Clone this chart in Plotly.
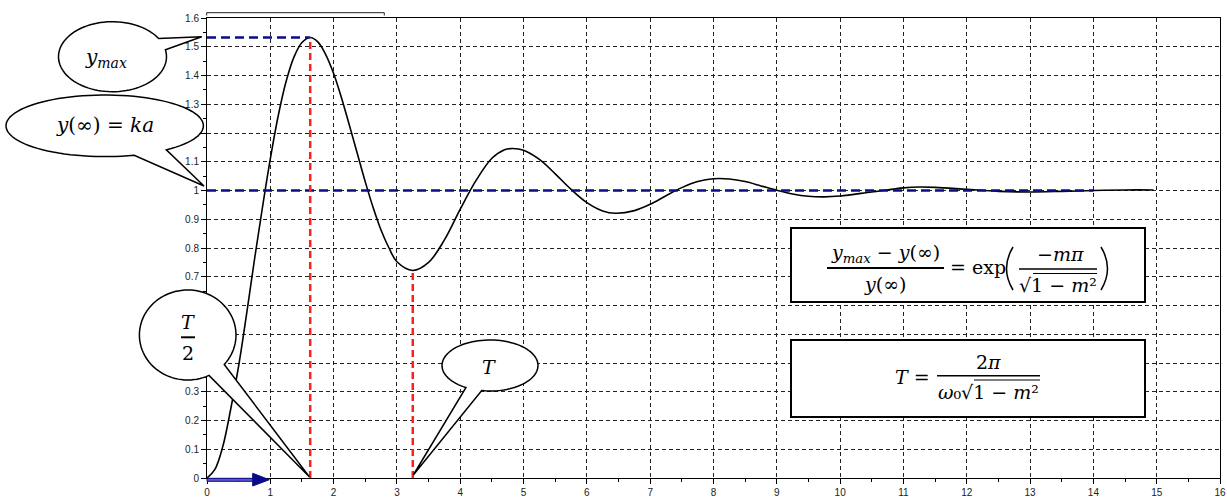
import math
import plotly.graph_objects as go

# Step response of a second-order system (time in s, output y)
t_values = [0, 0.125, 0.25, 0.375, 0.5, 0.625, 0.75, 0.875, 1.0, 1.125, 1.25, 1.375,
            1.5, 1.63, 1.75, 1.875, 2.0, 2.125, 2.25, 2.375, 2.5, 2.625, 2.75, 2.875,
            3.0, 3.25, 3.5, 3.75, 4.0, 4.25, 4.5, 4.7, 4.83, 5.0, 5.25, 5.5, 5.75,
            6.0, 6.25, 6.45, 6.75, 7.0, 7.25, 7.5, 7.75, 8.0, 8.25, 8.5, 8.75, 9.0,
            9.25, 9.5, 9.75, 10.0, 10.5, 11.0, 11.25, 11.5, 12.0, 12.5, 13.0, 13.5,
            14.0, 14.5, 14.95]
y_values = [0, 0.03, 0.11, 0.24, 0.39, 0.57, 0.76, 0.94, 1.11, 1.26, 1.38, 1.465,
            1.515, 1.532, 1.517, 1.473, 1.407, 1.322, 1.226, 1.128, 1.03, 0.94, 0.862, 0.8,
            0.752, 0.722, 0.75, 0.828, 0.935, 1.035, 1.112, 1.142, 1.146, 1.14, 1.108, 1.058, 1.004,
            0.958, 0.929, 0.921, 0.93, 0.952, 0.982, 1.01, 1.031, 1.041, 1.04, 1.031, 1.016, 1.001,
            0.988, 0.98, 0.978, 0.981, 0.995, 1.009, 1.012, 1.011, 1.004, 0.997, 0.995, 0.997,
            1.0, 1.002, 1.002]

# Characteristic points
y_final = 1.0
y_final_end = 14.0
t_peak = 1.63
y_peak = 1.532
t_period = 3.25
y_trough = 0.722

x_ticks = list(range(0, 17))
y_ticks = [round(0.1 * i, 1) for i in range(0, 17)]
y_tick_text = ["0", "0.1", "0.2", "0.3", "0.4", "0.5", "0.6", "0.7", "0.8", "0.9",
               "1", "1.1", "1.2", "1.3", "1.4", "1.5", "1.6"]

W, H = 1227, 500
ML, MR, MT, MB = 207, 7, 18, 22
PW, PH = W - ML - MR, H - MT - MB


def fx(px):
    return (px - ML) / PW


def fy(py):
    return (H - MB - py) / PH


def pt(px, py):
    return f"{fx(px):.5f},{fy(py):.5f}"


NAVY = "#0b0b8a"
RED = "#ff1f1f"
MATH = "DejaVu Serif, Liberation Serif, serif"

fig = go.Figure()

fig.add_trace(go.Scatter(x=t_values, y=y_values, mode="lines", line_shape="spline",
                         line=dict(color="black", width=1.6), hoverinfo="skip"))
fig.add_trace(go.Scatter(x=[0, y_final_end], y=[y_final, y_final], mode="lines",
                         line=dict(color=NAVY, width=2.5, dash="9px,5px")))
fig.add_trace(go.Scatter(x=[0, t_peak], y=[y_peak, y_peak], mode="lines",
                         line=dict(color=NAVY, width=2.5, dash="9px,5px")))
fig.add_trace(go.Scatter(x=[t_peak, t_peak], y=[0, y_peak], mode="lines",
                         line=dict(color=RED, width=2.5, dash="7px,4px")))
fig.add_trace(go.Scatter(x=[t_period, t_period], y=[0, y_trough], mode="lines",
                         line=dict(color=RED, width=2.5, dash="7px,4px")))

shapes = []


def bubble(cx, cy, rx, ry, b1, b2, tip, n=90):
    a1 = math.atan2((b1[1] - cy) / ry, (b1[0] - cx) / rx)
    a2 = math.atan2((b2[1] - cy) / ry, (b2[0] - cx) / rx)
    lo, hi = min(a1, a2), max(a1, a2)
    if hi - lo > math.pi:
        lo, hi = hi, lo + 2 * math.pi
    span = 2 * math.pi - (hi - lo)
    pts = []
    for i in range(n + 1):
        a = hi + span * i / n
        pts.append(pt(cx + rx * math.cos(a), cy + ry * math.sin(a)))
    path = "M " + " L ".join(pts) + " L " + pt(*tip) + " Z"
    shapes.append(dict(type="path", path=path, xref="paper", yref="paper",
                       fillcolor="white", line=dict(color="black", width=1.5), layer="above"))


bubble(112.5, 56.7, 54, 35, (156.7, 39.3), (163.3, 50), (201.7, 36.7))
bubble(104.7, 125.8, 98.7, 30.8, (133.3, 154.3), (166.7, 150), (204, 186))
bubble(187.7, 335, 48.3, 45, (210, 377.3), (225, 365), (309.3, 476.7))
bubble(490, 365.5, 48, 25.5, (465.7, 387.7), (481.7, 390.7), (413.3, 475))


def line(x0, y0, x1, y1, width=1.5, color="black"):
    shapes.append(dict(type="line", xref="paper", yref="paper", x0=fx(x0), y0=fy(y0),
                       x1=fx(x1), y1=fy(y1), line=dict(color=color, width=width), layer="above"))


def rect(x0, y0, x1, y1):
    shapes.append(dict(type="rect", xref="paper", yref="paper", x0=fx(x0), y0=fy(y0),
                       x1=fx(x1), y1=fy(y1), fillcolor="white",
                       line=dict(color="black", width=2), layer="above"))


# bracket above the plot frame
shapes.append(dict(type="path", xref="paper", yref="paper",
                   path="M " + pt(206.7, 15.5) + " L " + pt(206.7, 12.7) + " L " + pt(384.3, 12.7)
                   + " L " + pt(384.3, 15.5),
                   line=dict(color="#222", width=1), layer="above"))

# arrow along the time axis
shapes.append(dict(type="path", xref="paper", yref="paper",
                   path="M " + pt(207, 478.3) + " L " + pt(254, 478.3) + " L " + pt(254, 481.3)
                   + " L " + pt(207, 481.3) + " Z",
                   fillcolor="#5a5ac8", line=dict(color=NAVY, width=1), layer="above"))
shapes.append(dict(type="path", xref="paper", yref="paper",
                   path="M " + pt(252.7, 473.3) + " L " + pt(269.3, 479.7) + " L " + pt(252.7, 486) + " Z",
                   fillcolor=NAVY, line=dict(color=NAVY, width=1), layer="above"))

# formula boxes
rect(791, 228, 1145, 302)
rect(791, 340, 1145, 417)

# fraction bars and radicals
line(181, 337.3, 195, 337.3, 2)                 # T/2
line(827, 268, 944, 268, 2)                     # (ymax - y(inf)) / y(inf)
line(1019, 269, 1097, 269, 1.5)                 # -m pi / sqrt(1-m^2)
line(1033, 273.5, 1097, 273.5, 1.2)             # radical bar
line(937, 375.7, 1040, 375.7, 1.5)              # 2 pi / (w0 sqrt(1-m^2))
line(974, 380, 1040, 380, 1.2)                  # radical bar

# large parentheses of exp(...)
shapes.append(dict(type="path", xref="paper", yref="paper",
                   path="M " + pt(1013, 247) + " Q " + pt(1000, 268.5) + " " + pt(1013, 290),
                   line=dict(color="black", width=1.5), layer="above"))
shapes.append(dict(type="path", xref="paper", yref="paper",
                   path="M " + pt(1101, 247) + " Q " + pt(1114, 268.5) + " " + pt(1101, 290),
                   line=dict(color="black", width=1.5), layer="above"))

annotations = []


def text(px, py, s, size=20, yanchor="middle"):
    annotations.append(dict(x=fx(px), y=fy(py), xref="paper", yref="paper", text=s,
                            showarrow=False, xanchor="center", yanchor=yanchor,
                            font=dict(family=MATH, size=size, color="black")))


text(106, 58, "<i>y</i><sub><i>max</i></sub>", 20)
text(105, 125, "<i>y</i>(∞) = <i>ka</i>", 20)
text(187.5, 335, "<i>T</i>", 19, "bottom")
text(187.5, 340, "2", 19, "top")
text(489, 367, "<i>T</i>", 19)

text(885, 254, "<i>y</i><sub><i>max</i></sub> − <i>y</i>(∞)", 19)
text(885, 284, "<i>y</i>(∞)", 19)
text(978, 267, "= exp", 19)
text(1060, 254, "−<i>mπ</i>", 19)
text(1058, 285, "√1 − <i>m</i>²", 19)

text(912, 377, "<i>T</i> =", 19)
text(988, 362, "2<i>π</i>", 19)
text(988, 392, "<i>ω</i>₀√1 − <i>m</i>²", 19)

axis_common = dict(showline=True, linecolor="black", linewidth=1, mirror=True,
                   showgrid=True, gridcolor="#222", gridwidth=1, griddash="4px,3px",
                   zeroline=False, ticks="outside", ticklen=5, tickcolor="black",
                   automargin=False,
                   tickfont=dict(family="Liberation Sans, Arial, sans-serif", size=10, color="#222"))

fig.update_xaxes(range=[0, 16], tickvals=x_ticks, ticktext=[str(v) for v in x_ticks],
                 minor=dict(dtick=0.5, ticks="outside", ticklen=3, tickcolor="black", showgrid=False),
                 **axis_common)
fig.update_yaxes(range=[0, 1.6], tickvals=y_ticks, ticktext=y_tick_text,
                 minor=dict(dtick=0.05, ticks="outside", ticklen=3, tickcolor="black", showgrid=False),
                 **axis_common)

fig.update_layout(width=W, height=H, margin=dict(l=ML, r=MR, t=MT, b=MB, autoexpand=False),
                  paper_bgcolor="white", plot_bgcolor="white", showlegend=False,
                  shapes=shapes, annotations=annotations)

fig.write_html("out.html", config={"displayModeBar": False})
